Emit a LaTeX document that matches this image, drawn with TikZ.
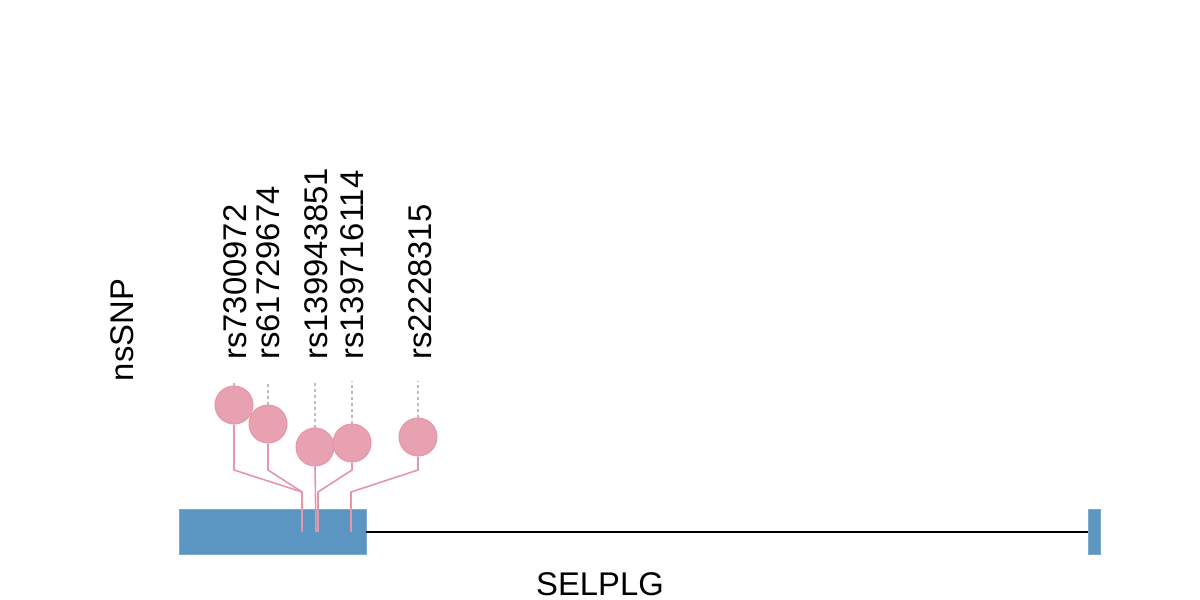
\documentclass[tikz,border=0pt]{standalone}
\usepackage{fontspec}
\setmainfont{Liberation Sans}
\usetikzlibrary{positioning,calc}
\definecolor{exonblue}{HTML}{5B96C2}
\definecolor{snppink}{HTML}{E8A1B1}
\definecolor{snpedge}{HTML}{E596AA}
\definecolor{guidegray}{HTML}{BBBBBB}

\begin{document}
\begin{tikzpicture}[x=0.5pt,y=-0.5pt]
  \tikzstyle{exon}=[fill=exonblue,draw=exonblue!80!white,line width=0.4pt,inner sep=0pt,minimum height=22.5pt]
  \tikzstyle{snp}=[circle,fill=snppink,draw=snpedge,line width=0.5pt,inner sep=0pt,minimum size=19pt]
  \tikzstyle{stem}=[draw=snpedge,line width=0.8pt]
  \tikzstyle{guide}=[draw=guidegray,line width=0.6pt,dash pattern=on 1.5pt off 1.5pt]
  \tikzstyle{lbl}=[rotate=90,anchor=west,inner sep=0pt,font=\fontsize{16.4}{18}\selectfont]
  \useasboundingbox (0,0) rectangle (1200,600);

  % gene model
  \node[exon,minimum width=93.5pt] (ex1) at (272.5,531.5) {};
  \node[exon,minimum width=6pt] (ex2) at (1094,531.5) {};
  \draw[line width=1pt] (ex1.east) -- (ex2.west);
  \node[font=\fontsize{16.4}{18}\selectfont] (gene) at (600,584) {SELPLG};
  \node[lbl,anchor=center] (track) at (122,330) {nsSNP};

  \coordinate (knee) at (0,470);
  \coordinate (elbow) at (0,492);
  \coordinate (top) at (0,381);

  % lollipops
  \node[snp] (s1) at (234,405) {};
  \node[snp] (s2) at (268,424) {};
  \node[snp] (s3) at (315,447) {};
  \node[snp] (s4) at (352,443) {};
  \node[snp] (s5) at (418,437) {};
  \coordinate (b1) at (302,532);
  \coordinate (b3) at (316,532);
  \coordinate (b4) at (318,532);
  \coordinate (b5) at (351,532);

  \draw[stem] (s1.south) -- (s1.south |- knee) -- (b1 |- elbow) -- (b1);
  \draw[stem] (s2.south) -- (s2.south |- knee) -- (b1 |- elbow) -- (b1);
  \draw[stem] (s3.south) -- (b3);
  \draw[stem] (s4.south) -- (s4.south |- knee) -- (b4 |- elbow) -- (b4);
  \draw[stem] (s5.south) -- (s5.south |- knee) -- (b5 |- elbow) -- (b5);

  \foreach \s in {s1,s2,s3,s4,s5}
    \draw[guide] (\s.north) -- (\s.north |- top);

  % labels
  \node[lbl] (l1) at (235,360) {rs7300972};
  \node[lbl] (l2) at (268,360) {rs61729674};
  \node[lbl] (l3) at (316,360) {rs139943851};
  \node[lbl] (l4) at (352,360) {rs139716114};
  \node[lbl] (l5) at (420,360) {rs2228315};
\end{tikzpicture}
\end{document}
